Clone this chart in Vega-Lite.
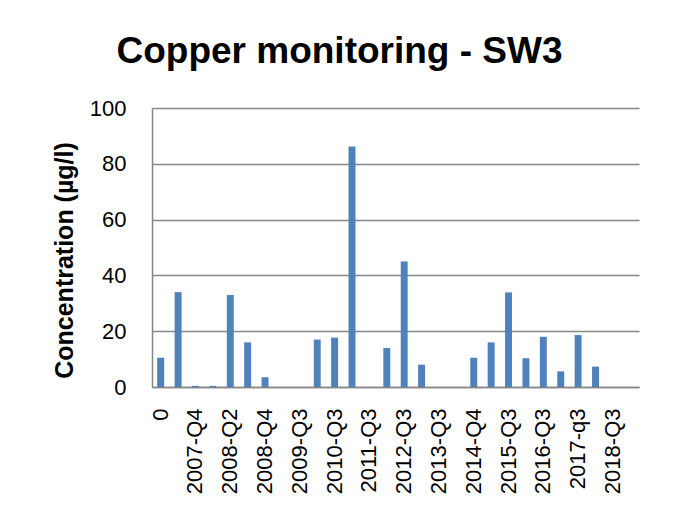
{
  "$schema": "https://vega.github.io/schema/vega-lite/v6.json",
  "width": 487,
  "height": 279,
  "autosize": "none",
  "padding": {"left": 152, "top": 108, "right": 34, "bottom": 128},
  "background": "white",
  "title": {
    "text": "Copper monitoring - SW3",
    "font": "Liberation Sans",
    "fontSize": 37,
    "fontWeight": "bold",
    "color": "#000000",
    "anchor": "middle",
    "frame": "group",
    "dx": -56,
    "offset": 26
  },
  "data": {
    "values": [
      {"q": "0", "v": 10.5},
      {"q": "2007-Q3", "v": 34.0},
      {"q": "2007-Q4", "v": 0.4},
      {"q": "2008-Q1", "v": 0.4},
      {"q": "2008-Q2", "v": 33.0},
      {"q": "2008-Q3", "v": 16.0},
      {"q": "2008-Q4", "v": 3.5},
      {"q": "2009-Q1", "v": 0},
      {"q": "2009-Q3", "v": 0},
      {"q": "2010-Q1", "v": 17.0},
      {"q": "2010-Q3", "v": 17.7},
      {"q": "2011-Q1", "v": 86.2},
      {"q": "2011-Q3", "v": 0},
      {"q": "2012-Q1", "v": 14.0},
      {"q": "2012-Q3", "v": 45.0},
      {"q": "2013-Q1", "v": 8.0},
      {"q": "2013-Q3", "v": 0},
      {"q": "2014-Q1", "v": 0},
      {"q": "2014-Q4", "v": 10.5},
      {"q": "2015-Q1", "v": 16.0},
      {"q": "2015-Q3", "v": 33.9},
      {"q": "2016-Q1", "v": 10.3},
      {"q": "2016-Q3", "v": 18.0},
      {"q": "2017-Q1", "v": 5.6},
      {"q": "2017-q3", "v": 18.6},
      {"q": "2018-Q1", "v": 7.3},
      {"q": "2018-Q3", "v": 0},
      {"q": "2019-Q1", "v": 0}
    ]
  },
  "mark": {"type": "bar", "color": "#4F81BD"},
  "encoding": {
    "x": {
      "field": "q",
      "type": "nominal",
      "sort": null,
      "scale": {"paddingInner": 0.6, "paddingOuter": 0.3},
      "axis": {
        "title": null,
        "values": ["0", "2007-Q4", "2008-Q2", "2008-Q4", "2009-Q3", "2010-Q3", "2011-Q3", "2012-Q3", "2013-Q3", "2014-Q4", "2015-Q3", "2016-Q3", "2017-q3", "2018-Q3"],
        "labelAngle": -90,
        "labelAlign": "right",
        "labelBaseline": "middle",
        "labelPadding": 21,
        "labelFont": "Liberation Sans",
        "labelFontSize": 22,
        "labelColor": "#000000",
        "labelOverlap": false,
        "ticks": false,
        "domainColor": "#868686",
        "domainWidth": 1.5,
        "grid": false
      }
    },
    "y": {
      "field": "v",
      "type": "quantitative",
      "scale": {"domain": [0, 100], "nice": false},
      "axis": {
        "title": "Concentration (µg/l)",
        "titleFont": "Liberation Sans",
        "titleFontSize": 25,
        "titleFontWeight": "bold",
        "titleColor": "#000000",
        "titlePadding": 12,
        "titleY": 152,
        "values": [0, 20, 40, 60, 80, 100],
        "labelFont": "Liberation Sans",
        "labelFontSize": 22,
        "labelColor": "#000000",
        "labelPadding": 26,
        "ticks": false,
        "domainColor": "#868686",
        "domainWidth": 1.5,
        "gridColor": "#868686",
        "gridWidth": 1.5
      }
    }
  },
  "config": {"view": {"stroke": null}}
}
